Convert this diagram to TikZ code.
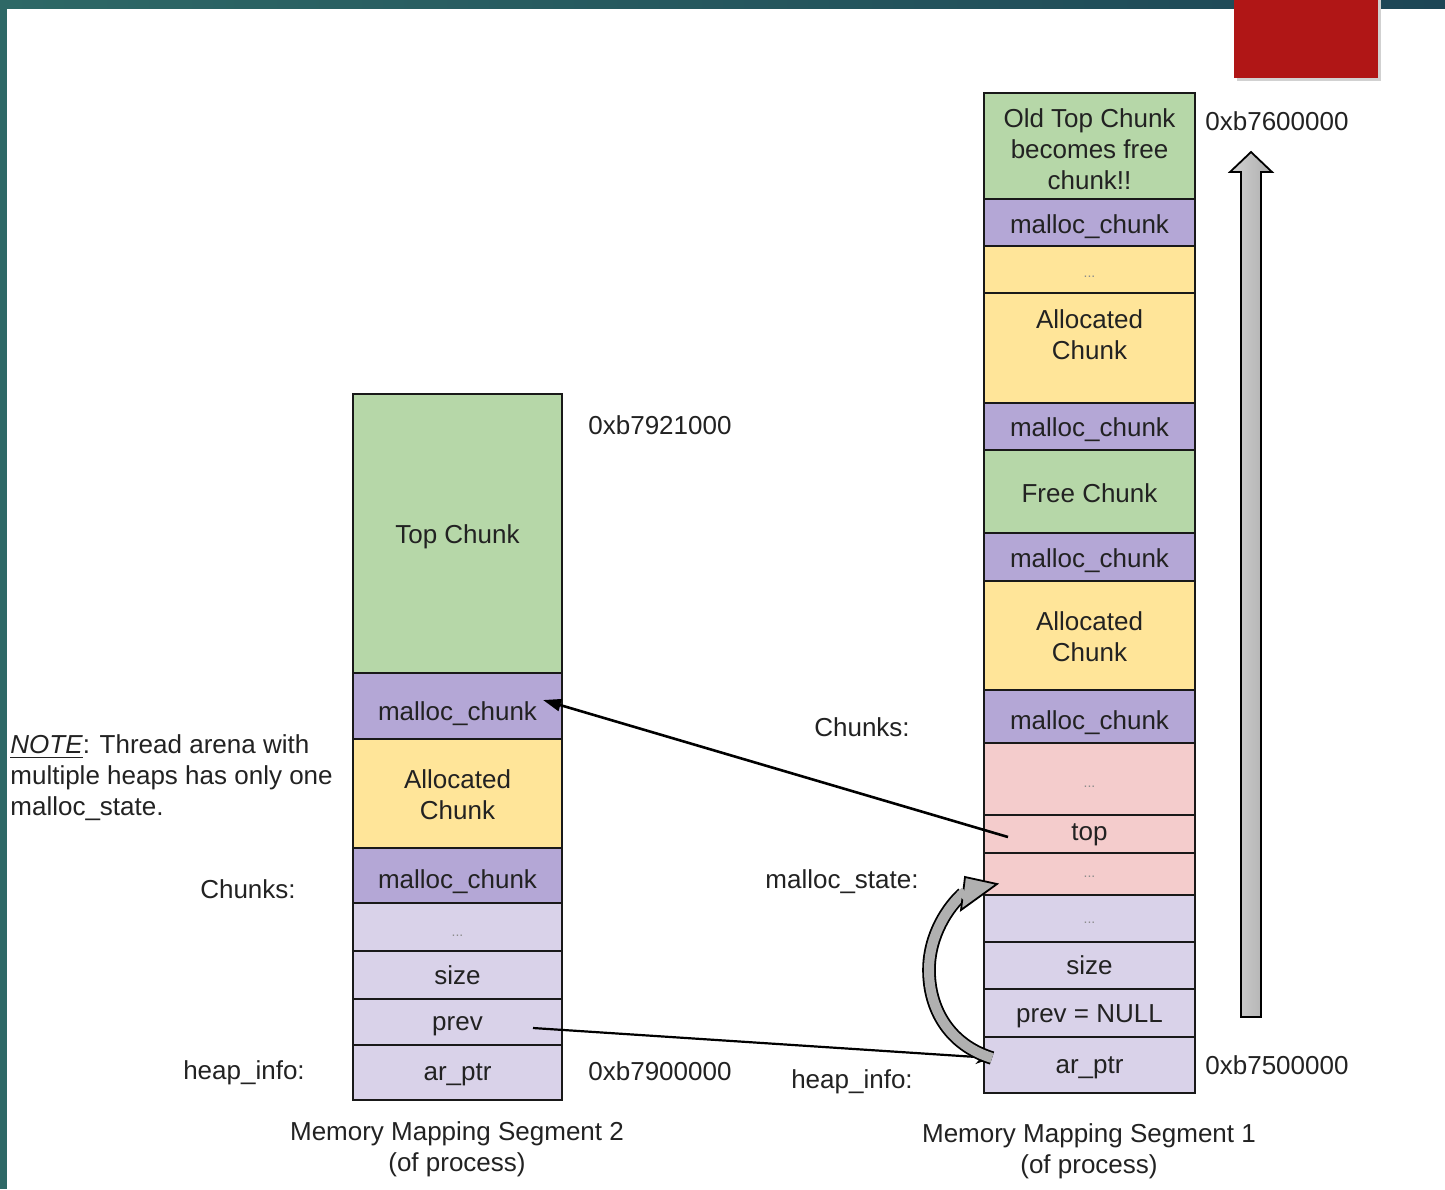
\documentclass[tikz,border=0pt]{standalone}
\usepackage{fontspec}
\setmainfont{Liberation Sans}
\usetikzlibrary{arrows.meta}

\definecolor{chunkgreen}{HTML}{B6D7A8}
\definecolor{chunkpurple}{HTML}{B4A7D6}
\definecolor{chunkyellow}{HTML}{FFE599}
\definecolor{statepink}{HTML}{F4CCCC}
\definecolor{infolav}{HTML}{D9D2E9}
\definecolor{frameteal}{HTML}{2E6866}
\definecolor{frameblue}{HTML}{1D4656}
\definecolor{tabred}{HTML}{B01616}
\definecolor{inktext}{HTML}{222222}

\newcommand{\smalldots}{{\fontsize{7}{8}\selectfont\color{black!45}...}}

\begin{document}
\begin{tikzpicture}[x=0.5pt,y=-0.5pt,
  cell/.style={draw=black!90, line width=1.1pt, inner sep=0pt, align=center,
    text=inktext, font=\fontsize{13}{15.5}\selectfont},
  lcell/.style={cell, minimum width=104.5pt},
  rcell/.style={cell, minimum width=105.5pt},
  % bl = distance of the (last) baseline below the cell centre, in px
  bl/.style={text height=#1pt, text depth=0pt},
  lbl/.style={text=inktext, font=\fontsize{13}{15.5}\selectfont, inner sep=0pt},
  ptr/.style={draw=black, line width=1.3pt},
  fatarrow/.style={draw=black, line width=0.9pt, line join=miter}]

\useasboundingbox (0,0) rectangle (1445,1189);
\fill[white] (0,0) rectangle (1445,1189);

% slide frame
\shade[left color=frameteal, right color=frameblue] (0,0) rectangle (1445,8);
\fill[frameteal] (0,0) rectangle (7,1189);
\fill[black!18] (1237,0) rectangle (1381,81);
\fill[tabred] (1234,0) rectangle (1378,78);

% ---- Memory Mapping Segment 2 ----
\node[lcell, fill=chunkgreen,  minimum height=139.5pt, bl=10]   (l1) at (457.5,533.5) {Top Chunk};
\node[lcell, fill=chunkpurple, minimum height=33pt,    bl=14.5] (l2) at (457.5,706)   {malloc\_chunk};
\node[lcell, fill=chunkyellow, minimum height=54.5pt,  bl=26]   (l3) at (457.5,793.5) {Allocated\\Chunk};
\node[lcell, fill=chunkpurple, minimum height=27.5pt,  bl=12.5] (l4) at (457.5,875.5) {malloc\_chunk};
\node[lcell, fill=infolav,     minimum height=24pt,    bl=9]    (l5) at (457.5,927)   {\smalldots};
\node[lcell, fill=infolav,     minimum height=24pt,    bl=9.3]  (l6) at (457.5,975)   {size};
\node[lcell, fill=infolav,     minimum height=23pt,    bl=8]    (l7) at (457.5,1022)  {prev};
\node[lcell, fill=infolav,     minimum height=27.5pt,  bl=7.8]  (l8) at (457.5,1072.5){ar\_ptr};

\node[lbl, anchor=west] (a1) at (588,425)  {0xb7921000};
\node[lbl, anchor=west] (a2) at (588,1071) {0xb7900000};
\node[lbl] (chunksL) at (248,889)  {Chunks:};
\node[lbl] (heapL)   at (244,1073) {heap\_info:};
\node[lbl, align=center] (seg2) at (457,1149) {Memory Mapping Segment 2\\(of process)};
\node[lbl, align=left, anchor=west] (note) at (10,778)
  {\underline{\textit{NOTE}}: Thread arena with\\multiple heaps has only one\\malloc\_state.};

% ---- Memory Mapping Segment 1 ----
\node[rcell, fill=chunkgreen,  minimum height=53pt,   bl=43]   (r1)  at (1089.5,146)   {Old Top Chunk\\becomes free\\chunk!!};
\node[rcell, fill=chunkpurple, minimum height=23.5pt, bl=10.7] (r2)  at (1089.5,222.5) {malloc\_chunk};
\node[rcell, fill=chunkyellow, minimum height=23.5pt, bl=7.5]  (r3)  at (1089.5,269.5) {\smalldots};
\node[rcell, fill=chunkyellow, minimum height=55pt,   bl=11]   (r4)  at (1089.5,348)   {Allocated\\Chunk};
\node[rcell, fill=chunkpurple, minimum height=23.5pt, bl=9.7]  (r5)  at (1089.5,426.5) {malloc\_chunk};
\node[rcell, fill=chunkgreen,  minimum height=41.5pt, bl=10.5] (r6)  at (1089.5,491.5) {Free Chunk};
\node[rcell, fill=chunkpurple, minimum height=24pt,   bl=10.7] (r7)  at (1089.5,557)   {malloc\_chunk};
\node[rcell, fill=chunkyellow, minimum height=54.5pt, bl=26]   (r8)  at (1089.5,635.5) {Allocated\\Chunk};
\node[rcell, fill=chunkpurple, minimum height=26.5pt, bl=12.7] (r9)  at (1089.5,716.5) {malloc\_chunk};
\node[rcell, fill=statepink,   minimum height=36pt,   bl=8]    (r10) at (1089.5,779)   {\smalldots};
\node[rcell, fill=statepink,   minimum height=19pt,   bl=6]    (r11) at (1089.5,834)   {top};
\node[rcell, fill=statepink,   minimum height=21pt,   bl=3.5]  (r12) at (1089.5,874)   {\smalldots};
\node[rcell, fill=infolav,     minimum height=23.5pt, bl=5]    (r13) at (1089.5,918.5) {\smalldots};
\node[rcell, fill=infolav,     minimum height=23.5pt, bl=9.3]  (r14) at (1089.5,965.5) {size};
\node[rcell, fill=infolav,     minimum height=24pt,   bl=9.6]  (r15) at (1089.5,1013)  {prev = NULL};
\node[rcell, fill=infolav,     minimum height=28pt,   bl=8.8]  (r16) at (1089.5,1065)  {ar\_ptr};

\node[lbl, anchor=west] (a3) at (1205,121)  {0xb7600000};
\node[lbl, anchor=west] (a4) at (1205,1065) {0xb7500000};
\node[lbl] (chunksR) at (862,727)  {Chunks:};
\node[lbl] (stateR)  at (842,882)  {malloc\_state:};
\node[lbl] (heapR)   at (852,1082) {heap\_info:};
\node[lbl, align=center] (seg1) at (1089,1151) {Memory Mapping Segment 1\\(of process)};

% growth direction of segment 1
\draw[fatarrow, left color=gray!35, right color=gray!65]
  (1241,1017) -- (1261,1017) -- (1261,172) -- (1272,172) -- (1251,152)
  -- (1230,172) -- (1241,172) -- cycle;

% pointers
\coordinate (topfield) at (1008,837);
\coordinate (chunkhdr) at (543,700);
\coordinate (prevfield) at (533,1028);
\coordinate (arfield) at (992,1058);
\coordinate (statebase) at (963,893.5);

\draw[ptr, -{Triangle[length=9pt,width=6pt]}] (topfield) -- (chunkhdr);
\draw[ptr, line width=1.1pt, -{Stealth[length=8pt,width=7pt]}] (prevfield) -- (arfield);

% ar_ptr points back to malloc_state
\draw[draw=black, line width=0.9pt, double=gray!62, double distance=5pt]
  (arfield) .. controls (950,1045) and (929,1010) .. (929,970)
  .. controls (929,935) and (948,907) .. (statebase);
\filldraw[fatarrow, fill=gray!62] (965,877) -- (997,884) -- (961,910) -- cycle;
\draw[gray!62, line width=5pt] (960,896.1) -- (965.3,891.5);

\end{tikzpicture}
\end{document}
